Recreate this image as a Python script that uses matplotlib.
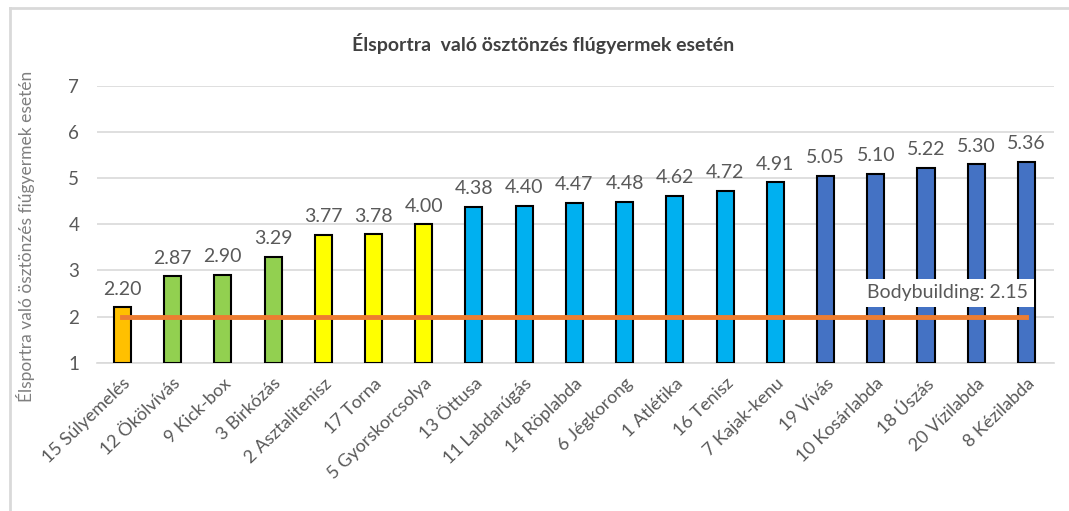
import matplotlib.pyplot as plt
from matplotlib.lines import Line2D

# adatok
sportagak = ["15 Súlyemelés", "12 Ökölvívás", "9 Kick-box", "3 Birkózás",
             "2 Asztalitenisz", "17 Torna", "5 Gyorskorcsolya", "13 Öttusa",
             "11 Labdarúgás", "14 Röplabda", "6 Jégkorong", "1 Atlétika",
             "16 Tenisz", "7 Kajak-kenu", "19 Vívás", "10 Kosárlabda",
             "18 Úszás", "20 Vízilabda", "8 Kézilabda"]
ertekek = [2.20, 2.87, 2.90, 3.29, 3.77, 3.78, 4.00, 4.38, 4.40, 4.47, 4.48,
           4.62, 4.72, 4.91, 5.05, 5.10, 5.22, 5.30, 5.36]
csoport = [0, 1, 1, 1, 2, 2, 2, 3, 3, 3, 3, 3, 3, 3, 4, 4, 4, 4, 4]
szinek = ["#FFC000", "#92D050", "#FFFF00", "#00B0F0", "#4472C4"]
bodybuilding_vonal = 2.0
bodybuilding_felirat = "Bodybuilding: 2.15"

plt.rcParams['font.family'] = ['Lato', 'DejaVu Sans']
szurke = "#595959"

fig = plt.figure(figsize=(10.69, 5.11), dpi=100)
ax = fig.add_axes([0.091, 0.290, 0.895, 0.542])

x = list(range(len(sportagak)))
ax.bar(x, [v - 1 for v in ertekek], bottom=1, width=0.34,
       color=[szinek[c] for c in csoport], edgecolor="black",
       linewidth=1.5, zorder=3)

for i, v in enumerate(ertekek):
    ax.annotate(f"{v:.2f}", (i, v), xytext=(0, 7), textcoords="offset points",
                ha="center", va="bottom", fontsize=14, color=szurke)

# bodybuilding vonal
ax.plot([x[0], x[-1]], [bodybuilding_vonal, bodybuilding_vonal],
        color="#ED7D31", linewidth=3.5, zorder=4)
ax.text(len(x) - 2.57, 2.52, bodybuilding_felirat, ha="center", va="center",
        fontsize=14, color=szurke, zorder=5,
        bbox=dict(facecolor="white", edgecolor="none", pad=4))

ax.set_xlim(-0.5, len(x) - 0.45)
ax.set_ylim(1, 7)
ax.set_yticks(range(1, 8))
ax.yaxis.grid(True, color="#D9D9D9", linewidth=1.2, zorder=0)
ax.set_axisbelow(True)
for s in ["top", "right", "left"]:
    ax.spines[s].set_visible(False)
ax.spines["bottom"].set_color("#D9D9D9")
ax.spines["bottom"].set_linewidth(1.2)
ax.tick_params(axis="y", length=0, pad=13, labelsize=13.5, labelcolor=szurke)
ax.tick_params(axis="x", length=0, pad=9)
ax.set_xticks(x)
ax.set_xticklabels(sportagak, rotation=44, ha="right", rotation_mode="anchor",
                   fontsize=13, color=szurke)

ax.set_ylabel("Élsportra való ösztönzés fiúgyermek esetén", fontsize=12.5,
              color="#7F7F7F")
ax.yaxis.set_label_coords(-0.065, 0.455)

fig.text(0.508, 0.915, "Élsportra  való ösztönzés flúgyermek esetén",
         ha="center", va="center", fontsize=14, fontweight="bold",
         color="#404040")

# keret
fig.add_artist(Line2D([0.009, 1.0], [0.984, 0.984], color="#D9D9D9",
                      linewidth=2, transform=fig.transFigure))
fig.add_artist(Line2D([0.009, 0.009], [0.0, 0.984], color="#D9D9D9",
                      linewidth=2, transform=fig.transFigure))

fig.savefig("out.png", dpi=100, facecolor="white")
